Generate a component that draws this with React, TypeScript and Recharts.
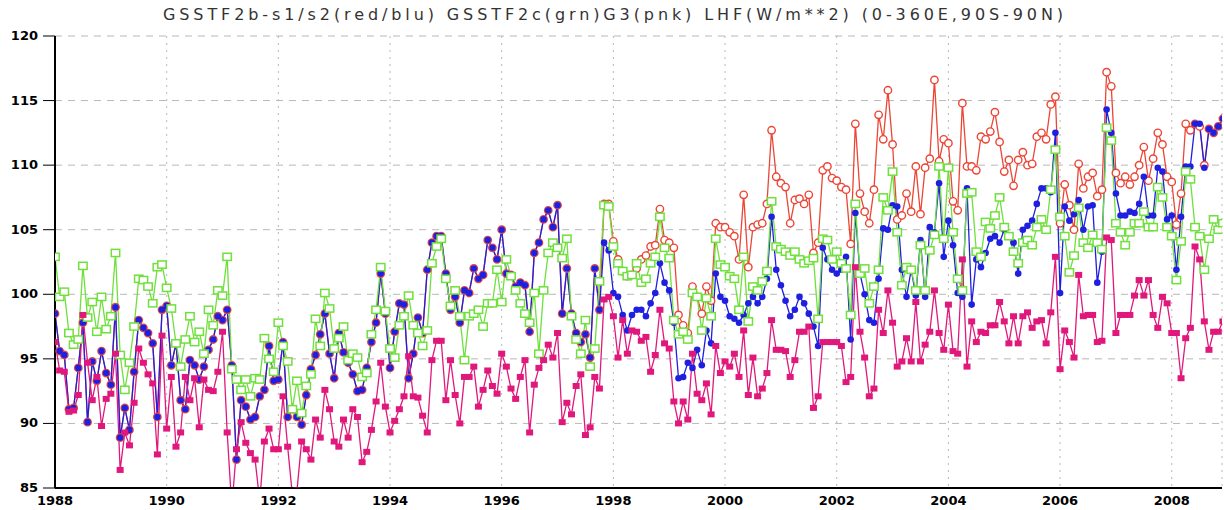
import React from 'react';
import { LineChart, Line, XAxis, YAxis, CartesianGrid } from 'recharts';

/* ─── Data (monthly, Jan 1988 – Dec 2008), W/m**2 ─────────────────────── */

const START_YEAR = 1988;

// GSSTF2b-s1 (red)
const S1 = [
  98.5, 95.6, 95.3, 91.1, 91.2, 94.3, 97.8, 90.1, 94.8, 93.3, 95.6, 93.9,
  93.0, 99.0, 88.9, 91.2, 89.5, 94.0, 98.0, 97.4, 97.0, 96.2, 90.5, 98.8,
  99.1, 94.5, 96.2, 91.8, 91.1, 94.9, 94.5, 93.4, 94.4, 95.7, 96.5, 98.3,
  98.0, 98.8, 94.5, 87.2, 91.8, 91.3, 90.3, 90.5, 92.1, 92.6, 96.0, 93.3,
  93.4, 96.3, 90.5, 91.1, 90.5, 89.9, 92.2, 94.2, 95.3, 96.9, 98.5, 95.4,
  93.5, 97.0, 95.5, 94.7, 93.8, 92.5, 92.6, 94.3, 96.3, 97.8, 101.6, 98.5,
  94.3, 97.1, 99.3, 99.2, 93.5, 95.4, 98.2, 97.0, 101.9, 104.0, 104.5, 104.5,
  101.6, 98.8, 99.8, 97.8, 100.3, 100.1, 102.0, 101.2, 101.5, 104.2, 103.6, 102.7,
  105.0, 101.6, 101.5, 100.6, 100.9, 100.7, 97.1, 103.2, 104.0, 105.8, 106.5, 105.2,
  106.9, 98.5, 102.0, 98.5, 97.0, 96.3, 96.9, 95.1, 102.0, 98.8, 107.0, 107.0,
  104.1, 102.7, 101.8, 101.4, 101.5, 102.0, 102.7, 103.0, 103.7, 103.8, 106.6, 104.2,
  104.0, 103.6, 98.4, 97.6, 97.0, 100.6, 99.8, 98.5, 100.6, 99.5, 105.5, 105.2,
  105.2, 104.8, 104.5, 102.7, 107.7, 102.1, 105.2, 105.4, 105.5, 107.0, 112.7, 109.1,
  108.6, 108.3, 105.5, 107.3, 107.4, 107.0, 107.7, 103.2, 104.0, 109.6, 109.9, 109.0,
  108.8, 108.3, 108.1, 103.9, 113.2, 107.8, 106.4, 105.5, 108.1, 113.9, 112.0, 115.8,
  111.6, 105.8, 106.1, 107.8, 106.4, 109.9, 106.2, 109.8, 110.5, 116.6, 110.3, 112.0,
  111.7, 107.2, 106.5, 114.8, 109.9, 109.9, 109.6, 112.2, 112.0, 112.6, 114.1, 111.8,
  109.5, 110.4, 108.4, 110.4, 111.0, 110.0, 110.1, 112.2, 112.5, 112.0, 114.7, 115.3,
  105.5, 108.5, 106.9, 105.0, 110.1, 108.2, 109.1, 109.4, 107.6, 108.1, 117.2, 116.1,
  109.4, 108.6, 109.1, 108.5, 109.1, 110.0, 111.4, 108.8, 110.5, 112.5, 111.6, 109.1,
  108.7, 105.4, 107.8, 113.2, 112.7, 113.2, 113.0, 110.0, 112.8, 112.5, 113.0, 113.6,
];

// GSSTF2b-s2 (blue)
const S2 = [
  98.5, 95.6, 95.3, 91.1, 91.2, 94.3, 97.8, 90.1, 94.8, 93.3, 95.6, 93.9,
  93.0, 99.0, 88.9, 91.2, 89.5, 94.0, 98.0, 97.4, 97.0, 96.2, 90.5, 98.8,
  99.1, 94.5, 96.2, 91.8, 91.1, 94.9, 94.5, 93.4, 94.4, 95.7, 96.5, 98.3,
  98.0, 98.8, 94.5, 87.2, 91.8, 91.3, 90.3, 90.5, 92.1, 92.6, 96.0, 93.3,
  93.4, 96.3, 90.5, 91.1, 90.5, 89.9, 92.2, 94.2, 95.3, 96.9, 98.5, 95.4,
  93.5, 97.0, 95.5, 94.7, 93.8, 92.5, 92.6, 94.3, 96.3, 97.8, 101.6, 98.5,
  94.3, 97.1, 99.3, 99.2, 93.5, 95.4, 98.2, 97.0, 101.9, 104.0, 104.5, 104.5,
  101.6, 98.8, 99.8, 97.8, 100.3, 100.1, 102.0, 101.2, 101.5, 104.2, 103.6, 102.7,
  105.0, 101.6, 101.5, 100.6, 100.9, 100.7, 97.1, 103.2, 104.0, 105.8, 106.5, 105.2,
  106.9, 98.5, 102.0, 98.5, 97.0, 96.3, 96.9, 95.1, 102.0, 98.8, 104.0, 103.4,
  100.1, 99.8, 98.4, 97.2, 98.4, 98.8, 98.8, 98.3, 99.3, 100.1, 102.4, 100.9,
  100.3, 97.8, 93.5, 93.6, 94.7, 94.3, 95.7, 94.5, 97.2, 96.2, 101.6, 99.8,
  99.5, 98.3, 98.1, 97.8, 98.4, 99.3, 99.8, 99.3, 99.8, 101.2, 106.0, 101.9,
  100.7, 99.5, 98.3, 98.8, 99.8, 99.3, 98.5, 97.5, 96.0, 103.6, 102.7, 101.9,
  101.6, 101.9, 102.9, 96.5, 106.3, 101.6, 100.0, 98.0, 97.8, 101.2, 105.1, 105.0,
  106.9, 106.8, 101.9, 99.8, 101.9, 99.9, 104.2, 99.8, 105.2, 104.8, 108.6, 102.9,
  105.7, 103.8, 100.1, 99.8, 108.2, 99.2, 102.7, 102.1, 103.2, 104.3, 104.5, 104.0,
  105.0, 104.5, 104.0, 101.6, 105.0, 105.3, 105.7, 107.0, 108.2, 108.2, 107.9, 112.5,
  100.1, 106.8, 105.7, 106.2, 107.3, 105.0, 106.8, 106.9, 100.9, 103.3, 114.3, 112.5,
  107.8, 106.1, 106.1, 106.4, 106.3, 107.0, 109.1, 106.1, 106.1, 109.8, 109.5, 105.8,
  106.1, 101.9, 106.0, 109.9, 109.9, 113.2, 113.2, 109.8, 112.8, 112.5, 113.0, 113.6,
];

// GSSTF2c (green)
const S2C = [
  102.9, 99.8, 100.2, 97.0, 96.1, 96.5, 102.2, 98.2, 99.4, 97.1, 99.8, 97.3,
  98.3, 103.2, 95.3, 92.6, 94.7, 97.5, 101.2, 101.1, 100.6, 99.3, 102.1, 102.3,
  100.5, 98.9, 96.2, 94.4, 96.5, 98.3, 96.3, 97.1, 95.4, 98.8, 97.6, 100.3,
  99.9, 102.9, 94.2, 93.4, 92.6, 93.4, 92.1, 93.5, 93.4, 96.6, 95.0, 94.0,
  97.8, 96.0, 94.8, 91.1, 93.3, 90.8, 92.9, 93.8, 98.1, 96.0, 100.1, 98.9,
  95.8, 96.6, 97.5, 94.9, 95.4, 95.1, 93.6, 93.9, 96.9, 98.8, 102.1, 98.7,
  95.8, 95.1, 97.6, 98.3, 99.9, 97.6, 97.0, 96.0, 97.2, 102.4, 103.7, 104.3,
  101.2, 99.1, 100.3, 98.3, 94.9, 98.3, 98.5, 98.8, 97.5, 99.3, 99.3, 101.9,
  99.4, 102.7, 101.4, 100.3, 99.3, 98.5, 97.8, 100.1, 95.4, 100.3, 103.2, 104.0,
  103.6, 102.8, 104.3, 98.3, 96.5, 95.4, 98.0, 94.4, 95.8, 101.0, 106.9, 106.8,
  103.7, 102.4, 101.8, 101.4, 101.5, 102.4, 100.9, 101.2, 102.4, 102.9, 106.0, 103.6,
  102.8, 98.0, 96.9, 97.1, 96.5, 100.1, 99.8, 97.2, 99.7, 98.3, 104.3, 102.3,
  102.1, 101.4, 101.2, 98.8, 102.9, 97.9, 100.6, 100.3, 101.0, 101.8, 107.2, 103.7,
  103.5, 103.3, 103.0, 103.3, 102.7, 102.4, 102.6, 102.8, 98.1, 104.3, 104.2, 102.7,
  103.3, 102.4, 102.0, 98.4, 107.0, 101.6, 102.0, 99.3, 100.6, 101.9, 107.5, 106.5,
  109.5, 104.8, 100.7, 102.1, 101.9, 100.3, 103.8, 100.3, 103.4, 104.6, 109.9, 104.3,
  109.8, 104.8, 101.2, 100.3, 107.8, 107.9, 103.3, 102.9, 105.6, 105.1, 106.1, 107.5,
  105.2, 104.5, 103.3, 102.4, 104.0, 104.2, 103.8, 105.2, 105.8, 105.0, 108.1, 111.2,
  106.0, 104.5, 101.7, 103.0, 106.7, 104.0, 103.6, 104.6, 104.0, 103.5, 112.9, 111.9,
  105.5, 104.8, 103.8, 104.8, 105.5, 105.5, 106.4, 105.2, 105.2, 108.3, 107.5, 105.2,
  104.5, 101.1, 104.1, 109.5, 108.9, 105.2, 104.5, 101.9, 104.3, 105.8, 105.0, 105.5,
];

// G3 (pink)
const G3 = [
  96.3, 94.1, 94.0, 90.9, 91.0, 92.2, 98.4, 94.7, 91.8, 93.6, 89.8, 91.9,
  92.3, 95.4, 86.4, 89.3, 88.3, 91.6, 95.8, 94.7, 93.8, 93.1, 87.6, 96.8,
  89.6, 93.6, 88.2, 89.3, 93.6, 91.8, 93.5, 89.7, 93.4, 92.6, 92.5, 94.0,
  97.1, 89.3, 83.5, 88.0, 90.1, 88.5, 87.7, 87.2, 84.0, 88.6, 89.6, 88.0,
  88.0, 92.1, 88.2, 84.5, 84.8, 88.6, 88.0, 87.2, 90.3, 88.9, 92.6, 91.1,
  88.6, 88.2, 90.3, 88.9, 91.1, 90.5, 87.0, 87.8, 89.5, 91.7, 94.7, 91.3,
  89.3, 90.2, 91.1, 92.1, 95.2, 92.1, 92.0, 90.6, 89.3, 94.9, 96.4, 96.4,
  91.8, 94.9, 92.2, 90.0, 93.6, 93.6, 94.4, 91.3, 92.6, 94.1, 92.9, 92.3,
  95.4, 94.4, 92.7, 91.9, 93.6, 94.9, 89.3, 93.0, 94.3, 94.9, 96.1, 95.1,
  97.0, 90.1, 91.6, 90.7, 92.9, 93.8, 89.1, 89.7, 93.6, 92.7, 99.6, 99.8,
  98.3, 95.1, 98.0, 95.4, 97.2, 97.1, 96.4, 96.7, 94.0, 95.3, 98.8, 96.2,
  95.8, 91.7, 90.0, 91.7, 90.3, 95.4, 92.3, 91.8, 93.1, 90.7, 96.0, 93.9,
  94.8, 94.4, 95.4, 93.6, 97.2, 92.2, 95.1, 92.1, 92.7, 93.9, 98.0, 95.7,
  95.7, 95.6, 93.6, 94.9, 97.1, 97.1, 97.5, 91.2, 92.1, 96.3, 96.3, 96.3,
  96.3, 96.0, 93.2, 93.6, 102.1, 97.1, 95.1, 92.1, 92.7, 98.8, 97.0, 100.3,
  97.8, 94.4, 94.8, 96.6, 94.8, 99.4, 94.8, 96.1, 97.1, 100.3, 97.0, 95.7,
  99.2, 95.6, 95.4, 102.7, 94.4, 97.9, 96.3, 97.1, 97.0, 97.6, 97.6, 99.4,
  97.9, 96.2, 98.3, 96.2, 98.3, 98.6, 97.4, 97.9, 98.0, 96.2, 98.6, 102.9,
  94.2, 97.2, 96.3, 95.1, 101.5, 98.3, 98.4, 98.4, 96.3, 96.4, 104.4, 104.2,
  97.0, 98.4, 98.4, 98.4, 99.9, 101.1, 99.9, 101.1, 98.4, 97.4, 99.8, 99.3,
  97.0, 97.0, 93.5, 96.6, 97.4, 103.7, 102.7, 97.9, 95.7, 97.1, 97.1, 97.9,
];

const X_TICKS = [1988, 1990, 1992, 1994, 1996, 1998, 2000, 2002, 2004, 2006, 2008];
const Y_TICKS = [85, 90, 95, 100, 105, 110, 115, 120];

const TITLE =
  'GSSTF2b-s1/s2(red/blu) GSSTF2c(grn)G3(pnk) LHF(W/m**2) (0-360E,90S-90N)';

/* ─── Colors ─────────────────────────────────────────────────────────── */

const RED = '#ec4535';
const BLUE = '#1f1fe0';
const GREEN = '#6fe03c';
const PINK = '#e0187c';

const rows = S1.map((v, i) => ({
  t: START_YEAR + i / 12,
  s1: v,
  s2: S2[i],
  s2c: S2C[i],
  g3: G3[i],
}));

/* ─── Markers ────────────────────────────────────────────────────────── */

// eslint-disable-next-line @typescript-eslint/no-explicit-any
const redDot = (p: any) => (
  <circle key={`r${p.index}`} cx={p.cx} cy={p.cy} r={3.7} fill="#fff" stroke={RED} strokeWidth={1.4} />
);
// eslint-disable-next-line @typescript-eslint/no-explicit-any
const blueDot = (p: any) => (
  <circle key={`b${p.index}`} cx={p.cx} cy={p.cy} r={3.3} fill={BLUE} />
);
// eslint-disable-next-line @typescript-eslint/no-explicit-any
const greenDot = (p: any) => (
  <rect key={`g${p.index}`} x={p.cx - 4.2} y={p.cy - 3.6} width={8.4} height={7.2} fill="#fff" stroke={GREEN} strokeWidth={1.5} />
);
// eslint-disable-next-line @typescript-eslint/no-explicit-any
const pinkDot = (p: any) => (
  <rect key={`p${p.index}`} x={p.cx - 3.5} y={p.cy - 3} width={7} height={6} fill={PINK} />
);

/* ─── Ticks ──────────────────────────────────────────────────────────── */

const TICK_FONT = { fontFamily: '"DejaVu Sans", sans-serif', fontWeight: 700, fontSize: 13, fill: '#000' };

// eslint-disable-next-line @typescript-eslint/no-explicit-any
const YTick = (props: any) => (
  <text x={props.x} y={props.y} dy={4} textAnchor="end" {...TICK_FONT}>
    {props.payload.value}
  </text>
);

// eslint-disable-next-line @typescript-eslint/no-explicit-any
const XTick = (props: any) => (
  <text x={props.x} y={props.y} dy={15} textAnchor="middle" {...TICK_FONT}>
    {props.payload.value}
  </text>
);

/* ─── Chart ──────────────────────────────────────────────────────────── */

export default function App() {
  return (
    <div style={{ position: 'absolute', left: 0, top: 0, width: 1224, height: 510, background: '#fff' }}>
      <svg width={1224} height={30} style={{ position: 'absolute', left: 0, top: 0 }}>
        <text
          x={163}
          y={20}
          textLength={900}
          lengthAdjust="spacing"
          fontFamily='"DejaVu Sans", sans-serif'
          fontSize={16}
          fill="#333"
        >
          {TITLE}
        </text>
      </svg>
      <LineChart
        width={1224}
        height={510}
        data={rows}
        margin={{ top: 36, right: 2, bottom: 0, left: 0 }}
      >
        <CartesianGrid horizontal vertical={false} stroke="#b8b8b8" strokeDasharray="7 6" />
        <CartesianGrid horizontal={false} vertical stroke="#b8b8b8" strokeDasharray="2 5" />
        <XAxis
          type="number"
          dataKey="t"
          domain={[1988, 2008.9]}
          ticks={X_TICKS}
          allowDataOverflow
          height={22}
          tickSize={0}
          tickLine={false}
          axisLine={{ stroke: '#000', strokeWidth: 2 }}
          tick={<XTick />}
          interval={0}
        />
        <XAxis
          xAxisId="top"
          orientation="top"
          type="number"
          domain={[1988, 2008.9]}
          height={0}
          tick={false}
          tickLine={false}
          axisLine={{ stroke: '#000', strokeWidth: 2 }}
        />
        <YAxis
          type="number"
          domain={[85, 120]}
          ticks={Y_TICKS}
          allowDataOverflow
          width={55}
          tickSize={12}
          tickMargin={5}
          tickLine={{ stroke: '#000', strokeWidth: 1 }}
          axisLine={{ stroke: '#000', strokeWidth: 2 }}
          tick={<YTick />}
          interval={0}
        />
        <YAxis
          yAxisId="right"
          orientation="right"
          type="number"
          domain={[85, 120]}
          width={0}
          tick={false}
          tickLine={false}
          axisLine={{ stroke: '#000', strokeWidth: 2 }}
        />
        <Line dataKey="s1" stroke={RED} strokeWidth={1.3} dot={redDot} activeDot={false} isAnimationActive={false} />
        <Line dataKey="s2" stroke={BLUE} strokeWidth={1.3} dot={blueDot} activeDot={false} isAnimationActive={false} />
        <Line dataKey="s2c" stroke={GREEN} strokeWidth={1.3} dot={greenDot} activeDot={false} isAnimationActive={false} />
        <Line dataKey="g3" stroke={PINK} strokeWidth={1.3} dot={pinkDot} activeDot={false} isAnimationActive={false} />
      </LineChart>
    </div>
  );
}
